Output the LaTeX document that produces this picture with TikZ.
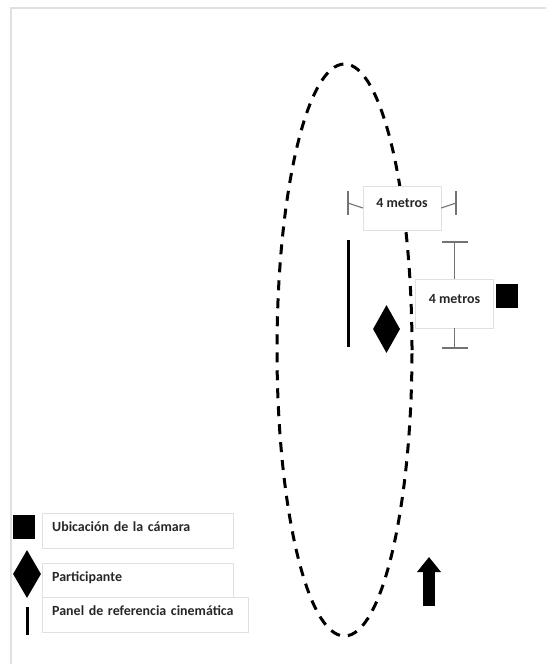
\documentclass[tikz,border=0pt]{standalone}
\usepackage{fontspec}
\setmainfont{Carlito}
\usetikzlibrary{shapes.geometric,arrows.meta}

\begin{document}
\begin{tikzpicture}[x=1bp,y=-1bp,font=\fontsize{14}{16}\selectfont\bfseries,
	cam/.style={fill=black,minimum width=22bp,minimum height=24bp,inner sep=0pt},
	part/.style={diamond,fill=black,minimum width=27bp,minimum height=48bp,inner sep=0pt},
	panel/.style={line width=3bp},
	dimbox/.style={draw=black!12,fill=white,text=black!85,inner ysep=0pt,minimum width=78bp,anchor=base},
	dim/.style={draw=black!55,line width=1.1bp},
	keybox/.style={draw=black!12,text=black!85,anchor=base west,align=left,inner xsep=10bp,inner ysep=0pt,text height=18bp,text depth=17bp}]
\useasboundingbox (0,0) rectangle (546,664);
\draw[black!12,line width=1.5bp] (11,664) -- (11,8) -- (546,8);

\draw[dash pattern=on 10bp off 8bp,line width=3bp] (344.5,350) ellipse [x radius=67.5bp, y radius=286bp];

\coordinate (ptop) at (348,240);
\coordinate (pbot) at (348,347);
\draw[panel] (ptop) -- (pbot);
\node[part] (runner) at (386.5,329) {};
\node[cam] (camera) at (507,296) {};

\node[dimbox,text height=21.5bp,text depth=22.5bp] (wbox) at (402,207.5) {4 metros};
\coordinate (wl) at (348,203);
\coordinate (wr) at (456,203);
\draw[dim] (wl) -- (wbox.west);
\draw[dim] (wr) -- (wbox.east);
\draw[dim] ([yshift=12bp]wl) -- ([yshift=-12bp]wl);
\draw[dim] ([yshift=12bp]wr) -- ([yshift=-12bp]wr);

\node[dimbox,text height=24.5bp,text depth=24.5bp] (hbox) at (454.5,303.5) {4 metros};
\coordinate (ht) at (454.5,242);
\coordinate (hb) at (454.5,348);
\draw[dim] (ht) -- (hbox.north);
\draw[dim] (hb) -- (hbox.south);
\draw[dim] ([xshift=-13bp]ht) -- ([xshift=13bp]ht);
\draw[dim] ([xshift=-13bp]hb) -- ([xshift=13bp]hb);

\coordinate (abot) at (429,606);
\coordinate (atip) at (429,557);
\draw[line width=12bp,-{Triangle[length=15bp,width=23bp]}] (abot) -- (atip);

\node[cam] (kcam) at (24,527) {};
\node[keybox,text width=171bp] (kcamtxt) at (42,531) {Ubicación de la cámara};
\node[part,minimum width=28bp] (kpart) at (27,574) {};
\node[keybox,text width=171bp,text depth=16bp] (kparttxt) at (42,581) {Participante};
\coordinate (kptop) at (27,607);
\coordinate (kpbot) at (27,635);
\draw[panel] (kptop) -- (kpbot);
\node[keybox,text width=186bp] (kpaneltxt) at (42,615) {Panel de referencia cinemática};
\end{tikzpicture}
\end{document}
